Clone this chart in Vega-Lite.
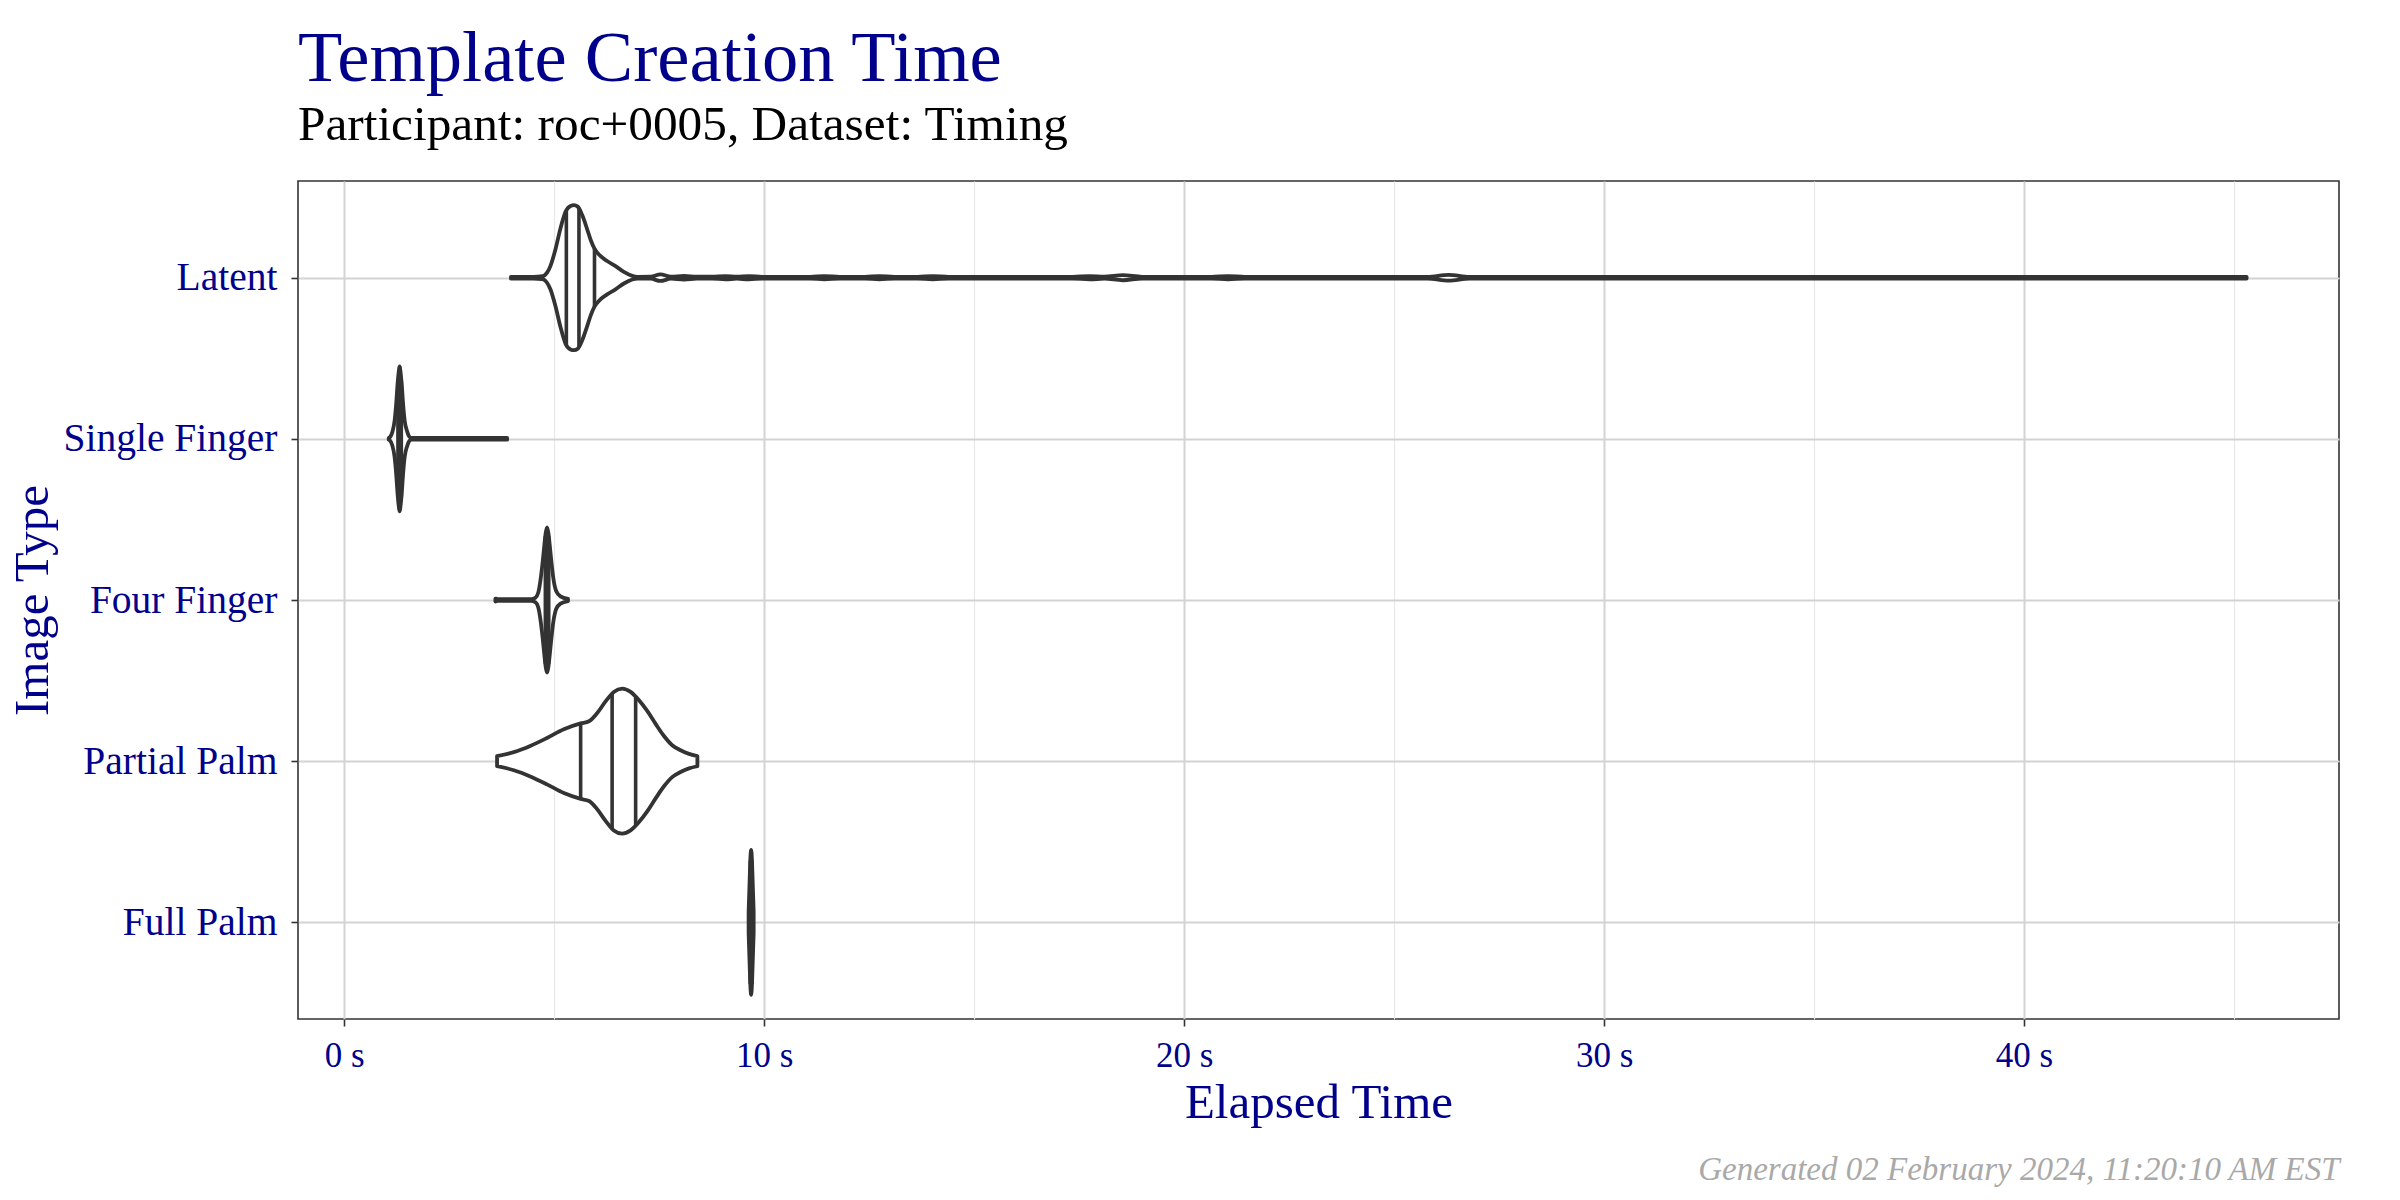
{
  "$schema": "https://vega.github.io/schema/vega-lite/v6.json",
  "width": 2041,
  "height": 838,
  "autosize": {"type": "none"},
  "padding": {"left": 298, "top": 181, "right": 61, "bottom": 181},
  "background": "white",
  "config": {
    "view": {"stroke": "#333333", "strokeWidth": 1.6},
    "font": "Liberation Serif"
  },
  "title": {
    "text": "Template Creation Time",
    "subtitle": "Participant: roc+0005, Dataset: Timing",
    "anchor": "start",
    "frame": "group",
    "font": "Liberation Serif",
    "fontSize": 72.5,
    "fontWeight": "normal",
    "color": "#00008B",
    "subtitleFont": "Liberation Serif",
    "subtitleFontSize": 49.3,
    "subtitleColor": "#000000",
    "subtitlePadding": 4,
    "offset": 30
  },
  "datasets": {
    "dens": [
      {"type": "Latent", "t": 3.97, "w": 0.012}, {"type": "Latent", "t": 4.5, "w": 0.012}, {"type": "Latent", "t": 4.72, "w": 0.02}, {"type": "Latent", "t": 4.83, "w": 0.07}, {"type": "Latent", "t": 4.91, "w": 0.16}, {"type": "Latent", "t": 5.03, "w": 0.39}, {"type": "Latent", "t": 5.15, "w": 0.68}, {"type": "Latent", "t": 5.27, "w": 0.91}, {"type": "Latent", "t": 5.39, "w": 0.99}, {"type": "Latent", "t": 5.47, "w": 1.0}, {"type": "Latent", "t": 5.56, "w": 0.98}, {"type": "Latent", "t": 5.67, "w": 0.86}, {"type": "Latent", "t": 5.79, "w": 0.66}, {"type": "Latent", "t": 5.87, "w": 0.52}, {"type": "Latent", "t": 5.96, "w": 0.40}, {"type": "Latent", "t": 6.10, "w": 0.30}, {"type": "Latent", "t": 6.26, "w": 0.23}, {"type": "Latent", "t": 6.46, "w": 0.16}, {"type": "Latent", "t": 6.66, "w": 0.08}, {"type": "Latent", "t": 6.86, "w": 0.025}, {"type": "Latent", "t": 6.98, "w": 0.012}, {"type": "Latent", "t": 7.3, "w": 0.014}, {"type": "Latent", "t": 7.53, "w": 0.045}, {"type": "Latent", "t": 7.78, "w": 0.014}, {"type": "Latent", "t": 8.09, "w": 0.025}, {"type": "Latent", "t": 8.4, "w": 0.013}, {"type": "Latent", "t": 8.75, "w": 0.013}, {"type": "Latent", "t": 9.08, "w": 0.022}, {"type": "Latent", "t": 9.35, "w": 0.014}, {"type": "Latent", "t": 9.64, "w": 0.022}, {"type": "Latent", "t": 9.95, "w": 0.012}, {"type": "Latent", "t": 11.1, "w": 0.012}, {"type": "Latent", "t": 11.43, "w": 0.022}, {"type": "Latent", "t": 11.8, "w": 0.012}, {"type": "Latent", "t": 12.4, "w": 0.012}, {"type": "Latent", "t": 12.74, "w": 0.022}, {"type": "Latent", "t": 13.1, "w": 0.012}, {"type": "Latent", "t": 13.65, "w": 0.012}, {"type": "Latent", "t": 14.01, "w": 0.022}, {"type": "Latent", "t": 14.4, "w": 0.012}, {"type": "Latent", "t": 17.35, "w": 0.012}, {"type": "Latent", "t": 17.75, "w": 0.022}, {"type": "Latent", "t": 18.1, "w": 0.014}, {"type": "Latent", "t": 18.54, "w": 0.035}, {"type": "Latent", "t": 19.0, "w": 0.012}, {"type": "Latent", "t": 20.65, "w": 0.012}, {"type": "Latent", "t": 21.05, "w": 0.022}, {"type": "Latent", "t": 21.45, "w": 0.012}, {"type": "Latent", "t": 25.8, "w": 0.012}, {"type": "Latent", "t": 26.3, "w": 0.04}, {"type": "Latent", "t": 26.8, "w": 0.012}, {"type": "Latent", "t": 45.3, "w": 0.012},
      {"type": "Single Finger", "t": 1.06, "w": 0.012}, {"type": "Single Finger", "t": 1.10, "w": 0.03}, {"type": "Single Finger", "t": 1.15, "w": 0.1}, {"type": "Single Finger", "t": 1.20, "w": 0.25}, {"type": "Single Finger", "t": 1.24, "w": 0.5}, {"type": "Single Finger", "t": 1.27, "w": 0.75}, {"type": "Single Finger", "t": 1.30, "w": 0.93}, {"type": "Single Finger", "t": 1.32, "w": 1.0}, {"type": "Single Finger", "t": 1.34, "w": 0.93}, {"type": "Single Finger", "t": 1.37, "w": 0.75}, {"type": "Single Finger", "t": 1.40, "w": 0.5}, {"type": "Single Finger", "t": 1.44, "w": 0.25}, {"type": "Single Finger", "t": 1.50, "w": 0.1}, {"type": "Single Finger", "t": 1.55, "w": 0.03}, {"type": "Single Finger", "t": 1.60, "w": 0.012}, {"type": "Single Finger", "t": 3.88, "w": 0.012},
      {"type": "Four Finger", "t": 3.60, "w": 0.02}, {"type": "Four Finger", "t": 3.66, "w": 0.012}, {"type": "Four Finger", "t": 4.45, "w": 0.012}, {"type": "Four Finger", "t": 4.55, "w": 0.03}, {"type": "Four Finger", "t": 4.62, "w": 0.1}, {"type": "Four Finger", "t": 4.68, "w": 0.3}, {"type": "Four Finger", "t": 4.73, "w": 0.55}, {"type": "Four Finger", "t": 4.77, "w": 0.78}, {"type": "Four Finger", "t": 4.80, "w": 0.93}, {"type": "Four Finger", "t": 4.83, "w": 1.0}, {"type": "Four Finger", "t": 4.86, "w": 0.93}, {"type": "Four Finger", "t": 4.89, "w": 0.78}, {"type": "Four Finger", "t": 4.93, "w": 0.55}, {"type": "Four Finger", "t": 4.98, "w": 0.3}, {"type": "Four Finger", "t": 5.05, "w": 0.12}, {"type": "Four Finger", "t": 5.15, "w": 0.05}, {"type": "Four Finger", "t": 5.33, "w": 0.015},
      {"type": "Partial Palm", "t": 3.64, "w": 0.07}, {"type": "Partial Palm", "t": 4.04, "w": 0.125}, {"type": "Partial Palm", "t": 4.43, "w": 0.21}, {"type": "Partial Palm", "t": 4.83, "w": 0.32}, {"type": "Partial Palm", "t": 5.23, "w": 0.44}, {"type": "Partial Palm", "t": 5.63, "w": 0.52}, {"type": "Partial Palm", "t": 5.83, "w": 0.55}, {"type": "Partial Palm", "t": 6.02, "w": 0.66}, {"type": "Partial Palm", "t": 6.22, "w": 0.82}, {"type": "Partial Palm", "t": 6.42, "w": 0.955}, {"type": "Partial Palm", "t": 6.62, "w": 1.0}, {"type": "Partial Palm", "t": 6.82, "w": 0.955}, {"type": "Partial Palm", "t": 7.02, "w": 0.84}, {"type": "Partial Palm", "t": 7.22, "w": 0.69}, {"type": "Partial Palm", "t": 7.42, "w": 0.51}, {"type": "Partial Palm", "t": 7.61, "w": 0.35}, {"type": "Partial Palm", "t": 7.81, "w": 0.22}, {"type": "Partial Palm", "t": 8.01, "w": 0.15}, {"type": "Partial Palm", "t": 8.21, "w": 0.10}, {"type": "Partial Palm", "t": 8.41, "w": 0.07},
      {"type": "Full Palm", "t": 9.63, "w": 0.15}, {"type": "Full Palm", "t": 9.65, "w": 0.5}, {"type": "Full Palm", "t": 9.67, "w": 0.85}, {"type": "Full Palm", "t": 9.69, "w": 1.0}, {"type": "Full Palm", "t": 9.71, "w": 0.85}, {"type": "Full Palm", "t": 9.73, "w": 0.5}, {"type": "Full Palm", "t": 9.75, "w": 0.15}
    ],
    "quant": [
      {"type": "Latent", "q": 5.29, "w": 0.92}, {"type": "Latent", "q": 5.59, "w": 0.95}, {"type": "Latent", "q": 5.96, "w": 0.40},
      {"type": "Single Finger", "q": 1.28, "w": 0.8}, {"type": "Single Finger", "q": 1.32, "w": 1.0}, {"type": "Single Finger", "q": 1.36, "w": 0.8},
      {"type": "Four Finger", "q": 4.79, "w": 0.88}, {"type": "Four Finger", "q": 4.83, "w": 1.0}, {"type": "Four Finger", "q": 4.87, "w": 0.88},
      {"type": "Partial Palm", "q": 5.63, "w": 0.52}, {"type": "Partial Palm", "q": 6.38, "w": 0.94}, {"type": "Partial Palm", "q": 6.94, "w": 0.88},
      {"type": "Full Palm", "q": 9.67, "w": 0.85}, {"type": "Full Palm", "q": 9.69, "w": 1.0}, {"type": "Full Palm", "q": 9.71, "w": 0.85}
    ]
  },
  "layer": [
    {
      "data": {"name": "dens"},
      "transform": [
        {"calculate": "indexof(['Full Palm','Partial Palm','Four Finger','Single Finger','Latent'], datum.type)", "as": "idx"},
        {"calculate": "datum.idx + 0.45 * datum.w", "as": "hi"},
        {"calculate": "datum.idx - 0.45 * datum.w", "as": "lo"}
      ],
      "mark": {"type": "area", "fill": "white", "stroke": "#333333", "strokeWidth": 3.8, "strokeJoin": "round", "interpolate": "monotone"},
      "encoding": {
        "x": {
          "field": "t", "type": "quantitative",
          "scale": {"domain": [-1.1, 47.5], "nice": false, "zero": false},
          "axis": {
            "orient": "bottom",
            "values": [0, 10, 20, 30, 40],
            "labelExpr": "datum.value + ' s'",
            "labelFont": "Liberation Serif", "labelFontSize": 35, "labelColor": "#00008B", "labelPadding": 12,
            "tickSize": 7, "tickColor": "#333333", "tickWidth": 1.6,
            "domain": false,
            "grid": true, "gridColor": "#d3d3d3", "gridWidth": 2,
            "title": "Elapsed Time",
            "titleFont": "Liberation Serif", "titleFontSize": 49, "titleFontWeight": "normal", "titleColor": "#00008B", "titlePadding": 5
          }
        },
        "y": {
          "field": "hi", "type": "quantitative", "stack": null,
          "scale": {"domain": [-0.6, 4.6], "nice": false, "zero": false},
          "axis": {
            "values": [0, 1, 2, 3, 4],
            "labelExpr": "['Full Palm','Partial Palm','Four Finger','Single Finger','Latent'][datum.value]",
            "labelFont": "Liberation Serif", "labelFontSize": 39.5, "labelColor": "#00008B", "labelPadding": 14, "labelLimit": 500,
            "tickSize": 7, "tickColor": "#333333", "tickWidth": 1.6,
            "domain": false,
            "grid": true, "gridColor": "#d3d3d3", "gridWidth": 2,
            "title": "Image Type",
            "titleFont": "Liberation Serif", "titleFontSize": 49, "titleFontWeight": "normal", "titleColor": "#00008B",
            "titleX": -251, "titleBaseline": "alphabetic", "titleAngle": 270
          }
        },
        "y2": {"field": "lo"},
        "detail": {"field": "type"}
      }
    },
    {
      "data": {"name": "quant"},
      "transform": [
        {"calculate": "indexof(['Full Palm','Partial Palm','Four Finger','Single Finger','Latent'], datum.type)", "as": "idx"},
        {"calculate": "datum.idx + 0.45 * datum.w", "as": "hi"},
        {"calculate": "datum.idx - 0.45 * datum.w", "as": "lo"}
      ],
      "mark": {"type": "rule", "stroke": "#333333", "strokeWidth": 3.6},
      "encoding": {
        "x": {
          "field": "q", "type": "quantitative",
          "scale": {"domain": [-1.1, 47.5], "nice": false, "zero": false},
          "axis": {
            "orient": "bottom",
            "values": [5, 15, 25, 35, 45],
            "labels": false, "ticks": false, "domain": false,
            "grid": true, "gridColor": "#e8e8e8", "gridWidth": 1.2,
            "title": "Generated 02 February 2024, 11:20:10 AM EST",
            "titleFont": "Liberation Serif", "titleFontSize": 33, "titleFontStyle": "italic", "titleFontWeight": "normal",
            "titleColor": "#a9a9a9", "titleAnchor": "end", "titlePadding": 134
          }
        },
        "y": {"field": "hi", "type": "quantitative"},
        "y2": {"field": "lo"}
      }
    }
  ],
  "resolve": {"scale": {"x": "independent"}}
}
